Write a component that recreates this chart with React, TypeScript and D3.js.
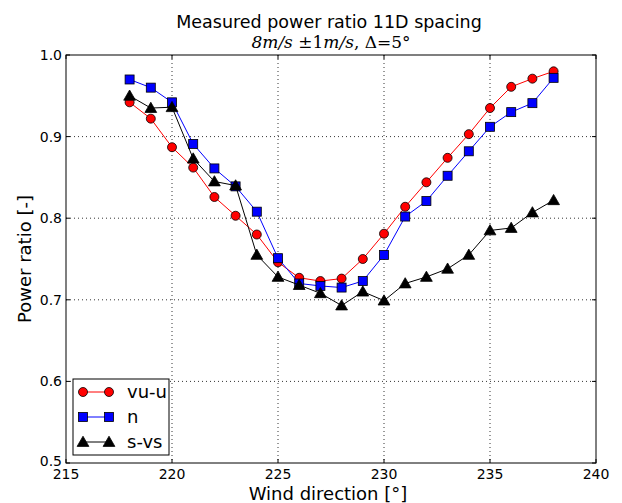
import React from 'react';
import * as d3 from 'd3';

const directions = [218, 219, 220, 221, 222, 223, 224, 225, 226, 227, 228, 229, 230, 231, 232, 233, 234, 235, 236, 237, 238];
const vuU = [0.942, 0.922, 0.887, 0.862, 0.826, 0.803, 0.780, 0.746, 0.727, 0.723, 0.726, 0.750, 0.781, 0.814, 0.844, 0.874, 0.903, 0.935, 0.961, 0.971, 0.980];
const nSeries = [0.970, 0.960, 0.942, 0.891, 0.861, 0.839, 0.808, 0.751, 0.720, 0.717, 0.715, 0.723, 0.755, 0.802, 0.821, 0.852, 0.882, 0.912, 0.930, 0.941, 0.972];
const sVs = [0.950, 0.935, 0.936, 0.873, 0.845, 0.840, 0.755, 0.728, 0.718, 0.708, 0.693, 0.710, 0.699, 0.720, 0.728, 0.738, 0.755, 0.785, 0.788, 0.807, 0.822];
const xTicks = [215, 220, 225, 230, 235, 240];
const yTicks = [0.5, 0.6, 0.7, 0.8, 0.9, 1.0];
const legendNames = ['vu-u', 'n', 's-vs'];

const sans = 'DejaVu Sans, sans-serif';

export default function App() {
  const left = 66;
  const right = 596;
  const top = 55;
  const bottom = 463;

  const x = d3.scaleLinear().domain([215, 240]).range([left, right]);
  const y = d3.scaleLinear().domain([0.5, 1.0]).range([bottom, top]);

  const line = d3
    .line<number>()
    .x((d, i) => x(directions[i]))
    .y((d) => y(d));

  const tri = d3.symbol().type(d3.symbolTriangle).size(60)();

  const series = [
    { name: legendNames[0], values: vuU, color: '#ff0000', marker: 'circle' },
    { name: legendNames[1], values: nSeries, color: '#0000ff', marker: 'square' },
    { name: legendNames[2], values: sVs, color: '#000000', marker: 'triangle' },
  ];

  const drawMarker = (kind: string, cx: number, cy: number, fill: string, key: any) => {
    if (kind === 'circle')
      return <circle key={key} cx={cx} cy={cy} r={4.5} fill={fill} stroke="#000" strokeWidth={0.8} />;
    if (kind === 'square')
      return <rect key={key} x={cx - 4.5} y={cy - 4.5} width={9} height={9} fill={fill} stroke="#000" strokeWidth={0.8} />;
    return <path key={key} d={tri as string} transform={`translate(${cx},${cy + 1})`} fill={fill} stroke="#000" strokeWidth={0.8} />;
  };

  return (
    <svg width={622} height={503} style={{ position: 'absolute', left: 0, top: 0 }}>
      <rect width={622} height={503} fill="#fff" />
      {/* grid */}
      {xTicks.slice(1, -1).map((t) => (
        <line key={'gx' + t} x1={x(t)} x2={x(t)} y1={top} y2={bottom} stroke="#000" strokeWidth={0.8} strokeDasharray="1,3" />
      ))}
      {yTicks.slice(1, -1).map((t) => (
        <line key={'gy' + t} x1={left} x2={right} y1={y(t)} y2={y(t)} stroke="#000" strokeWidth={0.8} strokeDasharray="1,3" />
      ))}
      {/* ticks inside on all sides */}
      {xTicks.map((t) => (
        <g key={'tx' + t}>
          <line x1={x(t)} x2={x(t)} y1={bottom} y2={bottom - 4} stroke="#000" />
          <line x1={x(t)} x2={x(t)} y1={top} y2={top + 4} stroke="#000" />
          <text x={x(t)} y={bottom + 16} textAnchor="middle" fontFamily={sans} fontSize={14}>{t}</text>
        </g>
      ))}
      {yTicks.map((t) => (
        <g key={'ty' + t}>
          <line x1={left} x2={left + 4} y1={y(t)} y2={y(t)} stroke="#000" />
          <line x1={right} x2={right - 4} y1={y(t)} y2={y(t)} stroke="#000" />
          <text x={left - 4} y={y(t) + (t === 0.5 ? 3 : 5)} textAnchor="end" fontFamily={sans} fontSize={14}>{t.toFixed(1)}</text>
        </g>
      ))}
      {/* series */}
      {series.map((s) => (
        <g key={s.name}>
          <path d={line(s.values) as string} fill="none" stroke={s.color} strokeWidth={1} />
          {s.values.map((v, i) => drawMarker(s.marker, x(directions[i]), y(v), s.color, i))}
        </g>
      ))}
      <rect x={left} y={top} width={right - left} height={bottom - top} fill="none" stroke="#000" strokeWidth={1} />
      {/* legend */}
      <rect x={73} y={379} width={96} height={76} fill="#fff" stroke="#000" strokeWidth={1} />
      {series.map((s, i) => {
        const ly = 392 + i * 25;
        return (
          <g key={'lg' + s.name}>
            <line x1={83} x2={109} y1={ly} y2={ly} stroke={s.color} strokeWidth={1} />
            {drawMarker(s.marker, 83, ly, s.color, 'a')}
            {drawMarker(s.marker, 109, ly, s.color, 'b')}
            <text x={127} y={ly + 6} fontFamily={sans} fontSize={18}>{s.name}</text>
          </g>
        );
      })}
      {/* titles */}
      <text x={329} y={28} textAnchor="middle" fontFamily={sans} fontSize={17.5}>Measured power ratio 11D spacing</text>
      <text x={331} y={48} textAnchor="middle" fontFamily="DejaVu Serif, serif" fontSize={17}>
        <tspan fontStyle="italic">8m/s</tspan> ±1<tspan fontStyle="italic">m/s</tspan>, Δ=5°
      </text>
      <text x={328} y={500} textAnchor="middle" fontFamily={sans} fontSize={18}>Wind direction [°]</text>
      <text transform={`translate(31,${(top + bottom) / 2}) rotate(-90)`} textAnchor="middle" fontFamily={sans} fontSize={18}>Power ratio [-]</text>
    </svg>
  );
}
